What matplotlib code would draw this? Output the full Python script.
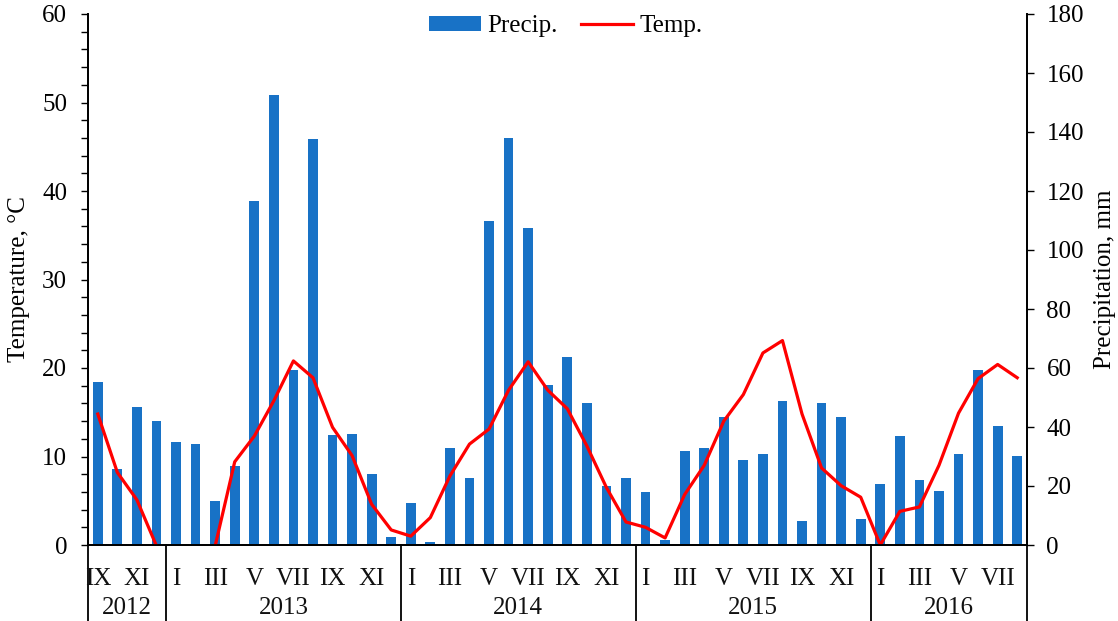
import matplotlib
matplotlib.use("Agg")
import matplotlib.pyplot as plt
import matplotlib.transforms as mtransforms
import numpy as np

plt.rcParams["font.family"] = ["Liberation Serif", "DejaVu Serif"]

# data, IX 2012 - VIII 2016
years = ["2012", "2013", "2014", "2015", "2016"]
months_per_year = [4, 12, 12, 12, 8]
first_month = [9, 1, 1, 1, 1]
roman = ["I", "II", "III", "IV", "V", "VI", "VII", "VIII", "IX", "X", "XI", "XII"]

precip = [55.1, 25.8, 46.7, 41.9,
          34.8, 34.4, 14.8, 26.9, 116.5, 152.6, 59.4, 137.6, 37.2, 37.6, 24.2, 2.6,
          14.2, 1.1, 32.8, 22.6, 109.9, 138.0, 107.6, 54.3, 63.8, 48.0, 20.1, 22.7,
          17.9, 1.7, 31.7, 32.9, 43.4, 28.7, 30.8, 48.8, 8.3, 48.0, 43.5, 8.7,
          20.6, 36.9, 22.2, 18.4, 30.8, 59.4, 40.4, 30.2]

temp = [14.8, 8.2, 5.1, -0.1,
        -2.0, -1.5, -0.1, 9.4, 12.3, 16.3, 20.8, 18.9, 13.3, 10.1, 4.6, 1.7,
        1.0, 3.1, 7.8, 11.4, 13.1, 17.5, 20.7, 17.5, 15.4, 11.2, 6.5, 2.6,
        2.0, 0.8, 5.7, 9.0, 14.0, 17.0, 21.7, 23.1, 14.8, 8.7, 6.7, 5.4,
        0.0, 3.8, 4.3, 9.0, 14.9, 18.8, 20.4, 18.9]

month_labels = []
for fm, n in zip(first_month, months_per_year):
    month_labels += roman[fm - 1:fm - 1 + n]
x = np.arange(len(precip))

fs = 18
fig = plt.figure(figsize=(11.18, 6.21), dpi=100)
ax = fig.add_axes([88 / 1118, 1 - 545 / 621, 939 / 1118, 531 / 621])
ax2 = ax.twinx()

bars = ax2.bar(x, precip, width=0.5, color="#1872C6", label="Precip.")
line, = ax.plot(x, temp, color="#FF0000", lw=2.3, label="Temp.")
ax.set_zorder(ax2.get_zorder() + 1)
ax.patch.set_visible(False)

ax.set_xlim(-0.5, len(x) - 0.5)
ax.set_ylim(0, 60)
ax2.set_ylim(0, 180)
ax.set_yticks(np.arange(0, 61, 10))
ax.set_yticks(np.arange(0, 61, 2), minor=True)
ax2.set_yticks(np.arange(0, 181, 20))
ax.set_xticks([])

for a in (ax, ax2):
    a.spines["top"].set_visible(False)
    for s in a.spines.values():
        s.set_linewidth(1.3)
ax.tick_params(axis="y", which="both", direction="out", length=5, width=1.0,
               labelsize=fs, pad=10)
ax2.tick_params(axis="y", which="both", direction="out", length=5, width=1.0,
                labelsize=fs, pad=9)

ax.set_ylabel("Temperature, °C", fontsize=fs)
ax.yaxis.set_label_coords(-0.062, 0.5)
ax2.set_ylabel("Precipitation, mm", fontsize=fs)
ax2.yaxis.set_label_coords(1.071, 0.5)

# multi-level category axis
trans = mtransforms.blended_transform_factory(ax.transData, ax.transAxes)
bottom = -(621 - 545) / 531 - 0.01
for i in range(0, len(x), 2):
    ax.text(x[i], -0.064, month_labels[i], transform=trans, ha="center",
            va="center", fontsize=fs, color="#111111")
edges = np.concatenate([[0], np.cumsum(months_per_year)]) - 0.5
for e in edges:
    ax.plot([e, e], [0, bottom], transform=trans, color="black", lw=1.3,
            clip_on=False)
for yr, a0, a1 in zip(years, edges[:-1], edges[1:]):
    ax.text((a0 + a1) / 2, -0.118, yr, transform=trans, ha="center",
            va="center", fontsize=fs, color="#111111")

fig.legend(handles=[bars, line], loc="upper center", ncol=2, frameon=False,
           bbox_to_anchor=(0.506, 1.012), fontsize=fs, handlelength=2.1,
           handleheight=0.55, columnspacing=0.9, handletextpad=0.25)

fig.savefig("out.png", dpi=100)
